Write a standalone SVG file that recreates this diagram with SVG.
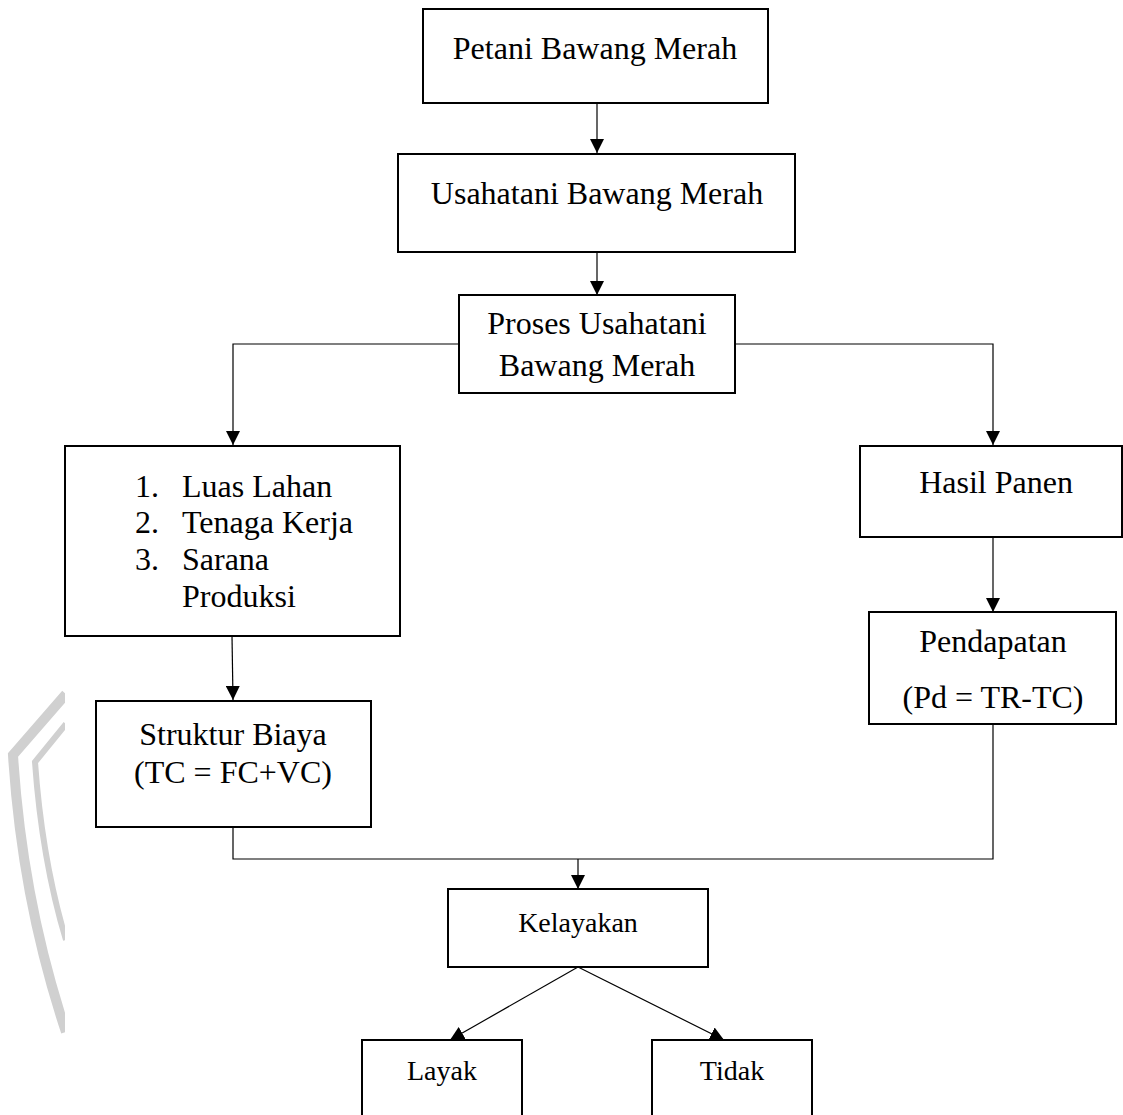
<svg xmlns="http://www.w3.org/2000/svg" width="1123" height="1115" viewBox="0 0 1123 1115">
<style>
.box{fill:#fff;stroke:#000;stroke-width:2}
.t{font-family:"Liberation Serif","Times New Roman",serif;font-size:32px;fill:#000;text-anchor:middle}
.s{font-size:28px}
.l{text-anchor:start}
.c{fill:none;stroke:#000;stroke-width:1.2}
.wm{fill:none;stroke:#d0d0d0;stroke-linecap:butt}
</style>
<defs>
<marker id="ah" markerWidth="14" markerHeight="14" refX="14" refY="7" orient="auto" markerUnits="userSpaceOnUse">
<path d="M0,0 L14,7 L0,14 Z" fill="#000"/>
</marker>
<clipPath id="wc"><rect x="0" y="680" width="65" height="400"/></clipPath>
</defs>
<g id="watermark" clip-path="url(#wc)">
<path class="wm" stroke-width="10" d="M66,694 L13,755 Q22,900 66,1032"/>
<path class="wm" stroke-width="6" d="M66,724 L35,762 Q42,860 66,940"/>
</g>
<g id="connectors">
<line class="c" x1="597" y1="103" x2="597" y2="153" marker-end="url(#ah)"/>
<line class="c" x1="597" y1="252" x2="597" y2="295" marker-end="url(#ah)"/>
<polyline class="c" points="459,344 233,344 233,445" marker-end="url(#ah)"/>
<polyline class="c" points="735,344 993,344 993,445" marker-end="url(#ah)"/>
<line class="c" x1="232" y1="636" x2="233" y2="700" marker-end="url(#ah)"/>
<line class="c" x1="993" y1="537" x2="993" y2="612" marker-end="url(#ah)"/>
<polyline class="c" points="233,827 233,859 993,859 993,724"/>
<line class="c" x1="578" y1="859" x2="578" y2="889" marker-end="url(#ah)"/>
<line class="c" x1="578" y1="967" x2="450" y2="1040" marker-end="url(#ah)"/>
<line class="c" x1="578" y1="967" x2="724" y2="1040" marker-end="url(#ah)"/>
</g>
<g id="petani">
<rect class="box" x="423" y="9" width="345" height="94"/>
<text class="t" x="595" y="59">Petani Bawang Merah</text>
</g>
<g id="usahatani">
<rect class="box" x="398" y="154" width="397" height="98"/>
<text class="t" x="597" y="204">Usahatani Bawang Merah</text>
</g>
<g id="proses">
<rect class="box" x="459" y="295" width="276" height="98"/>
<text class="t" x="597" y="334">Proses Usahatani</text>
<text class="t" x="597" y="376">Bawang Merah</text>
</g>
<g id="faktor">
<rect class="box" x="65" y="446" width="335" height="190"/>
<text class="t l" x="135" y="497">1.</text>
<text class="t l" x="182" y="497">Luas Lahan</text>
<text class="t l" x="135" y="533">2.</text>
<text class="t l" x="182" y="533">Tenaga Kerja</text>
<text class="t l" x="135" y="570">3.</text>
<text class="t l" x="182" y="570">Sarana</text>
<text class="t l" x="182" y="607">Produksi</text>
</g>
<g id="hasil">
<rect class="box" x="860" y="446" width="262" height="91"/>
<text class="t" x="996" y="493">Hasil Panen</text>
</g>
<g id="struktur">
<rect class="box" x="96" y="701" width="275" height="126"/>
<text class="t" x="233" y="745">Struktur Biaya</text>
<text class="t" x="233" y="783">(TC = FC+VC)</text>
</g>
<g id="pendapatan">
<rect class="box" x="869" y="612" width="247" height="112"/>
<text class="t" x="993" y="652">Pendapatan</text>
<text class="t" x="993" y="708">(Pd = TR-TC)</text>
</g>
<g id="kelayakan">
<rect class="box" x="448" y="889" width="260" height="78"/>
<text class="t s" x="578" y="932">Kelayakan</text>
</g>
<g id="layak">
<rect class="box" x="362" y="1040" width="160" height="90"/>
<text class="t s" x="442" y="1080">Layak</text>
</g>
<g id="tidak">
<rect class="box" x="652" y="1040" width="160" height="90"/>
<text class="t s" x="732" y="1080">Tidak</text>
</g>
</svg>
